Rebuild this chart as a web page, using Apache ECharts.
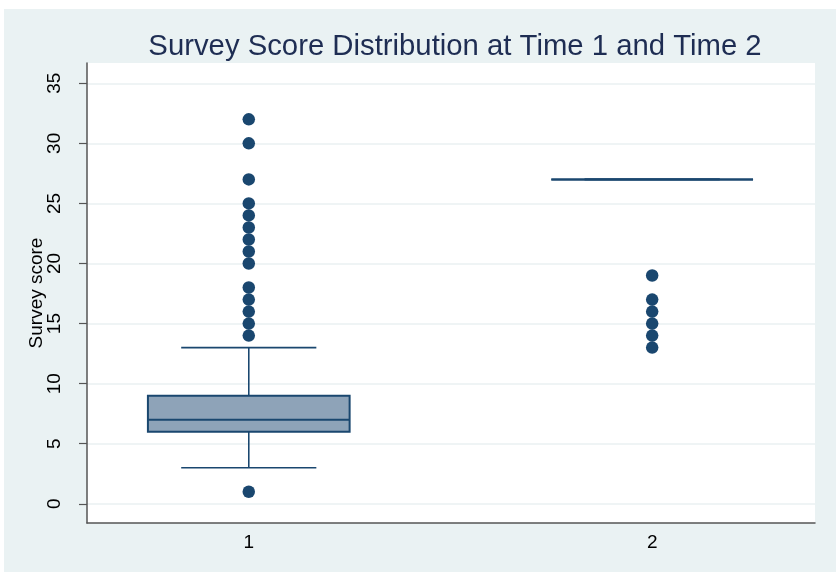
<!DOCTYPE html>
<html><head><meta charset="utf-8">
<script src="https://cdn.jsdelivr.net/npm/echarts@6/dist/echarts.min.js"></script>
<style>html,body{margin:0;padding:0;background:#fff}#c{width:836px;height:572px}</style>
</head><body><div id="c"></div>
<script>
// ---- data ----
const categories = [1, 2];
const lowerWhisker = [3, 27];
const q1 = [6, 27];
const median = [7, 27];
const q3 = [9, 27];
const upperWhisker = [13, 27];
const outliersTime1 = [1, 14, 15, 16, 17, 18, 20, 21, 22, 23, 24, 25, 27, 30, 32];
const outliersTime2 = [13, 14, 15, 16, 17, 19];
const yTickValues = [0, 5, 10, 15, 20, 25, 30, 35];
const xTickValues = [1, 2];

const NAVY = '#1a476f';
const FONT = '"Liberation Sans", Arial, Helvetica, sans-serif';

const boxData = categories.map((c, i) => [c, lowerWhisker[i], q1[i], median[i], q3[i], upperWhisker[i]]);
const outlierData = outliersTime1.map(v => [categories[0], v]).concat(outliersTime2.map(v => [categories[1], v]));

const chart = echarts.init(document.getElementById('c'), null, {renderer: 'canvas'});
chart.setOption({
  backgroundColor: '#ffffff',
  animation: false,
  graphic: [{
    type: 'rect', z: -100, silent: true,
    shape: {x: 4, y: 9, width: 832, height: 563},
    style: {fill: '#eaf2f3'}
  }],
  title: {
    text: 'Survey Score Distribution at Time 1 and Time 2',
    left: 450, top: 27, textAlign: 'center',
    textStyle: {fontFamily: FONT, fontSize: 29.3, fontWeight: 'normal', color: '#1e2d53'}
  },
  grid: {left: 87, right: 21, top: 63, bottom: 49, show: true, backgroundColor: '#ffffff', borderWidth: 0},
  xAxis: {
    type: 'value', min: 0.599, max: 2.4036,
    axisLine: {show: true, onZero: false, lineStyle: {color: '#555555', width: 1.5}},
    axisTick: {show: false},
    splitLine: {show: false},
    axisLabel: {customValues: xTickValues, color: '#000', fontFamily: FONT, fontSize: 19, margin: 10}
  },
  yAxis: {
    type: 'value', min: -1.6, max: 36.69,
    name: 'Survey score', nameLocation: 'middle', nameGap: 41, nameMoveOverlap: false,
    nameTextStyle: {fontFamily: FONT, fontSize: 19, color: '#000'},
    axisLine: {show: true, onZero: false, lineStyle: {color: '#555555', width: 1.5}},
    axisTick: {show: true, customValues: yTickValues, length: 8, lineStyle: {color: '#555555', width: 1.2}},
    splitLine: {show: true, lineStyle: {color: '#eaf0f2', width: 1.5}},
    axisLabel: {customValues: yTickValues, rotate: 90, color: '#000', fontFamily: FONT, fontSize: 19, margin: 23}
  },
  series: [{
    type: 'custom',
    data: boxData,
    z: 3,
    renderItem: function (params, api) {
      const x = api.value(0);
      const cx = api.coord([x, 0])[0];
      const halfW = api.size([0.25, 0])[0];
      const capHalf = api.size([0.1675, 0])[0];
      const yLo = api.coord([x, api.value(1)])[1];
      const yQ1 = api.coord([x, api.value(2)])[1];
      const yMed = api.coord([x, api.value(3)])[1];
      const yQ3 = api.coord([x, api.value(4)])[1];
      const yHi = api.coord([x, api.value(5)])[1];
      const lineStyle = {stroke: NAVY, lineWidth: 1.6};
      return {
        type: 'group',
        children: [
          {type: 'line', shape: {x1: cx, y1: yQ3, x2: cx, y2: yHi}, style: lineStyle},
          {type: 'line', shape: {x1: cx, y1: yQ1, x2: cx, y2: yLo}, style: lineStyle},
          {type: 'line', shape: {x1: cx - capHalf, y1: yHi, x2: cx + capHalf, y2: yHi}, style: lineStyle},
          {type: 'line', shape: {x1: cx - capHalf, y1: yLo, x2: cx + capHalf, y2: yLo}, style: lineStyle},
          {type: 'rect', shape: {x: cx - halfW, y: yQ3, width: 2 * halfW, height: yQ1 - yQ3},
            style: {fill: '#8ea3b8', stroke: NAVY, lineWidth: 2}},
          {type: 'line', shape: {x1: cx - halfW, y1: yMed, x2: cx + halfW, y2: yMed}, style: {stroke: NAVY, lineWidth: 2}}
        ]
      };
    }
  }, {
    type: 'scatter',
    data: outlierData,
    symbol: 'circle',
    symbolSize: 12.5,
    itemStyle: {color: NAVY, opacity: 1},
    z: 4
  }]
});
</script>
</body></html>
